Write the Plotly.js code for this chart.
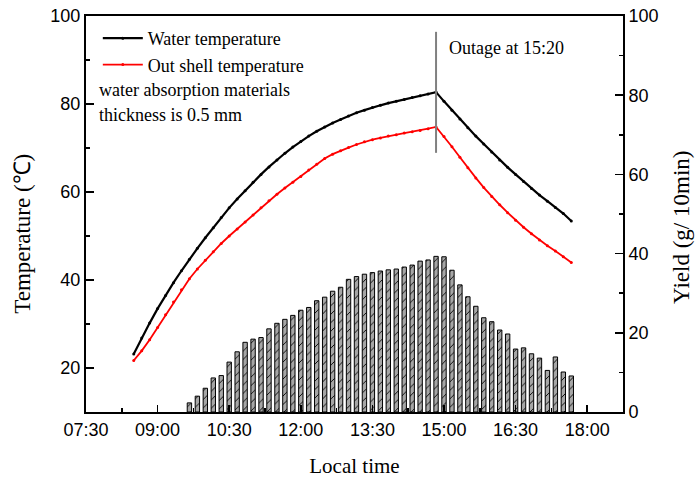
<!DOCTYPE html>
<html>
<head>
<meta charset="utf-8">
<script src="https://cdn.plot.ly/plotly-3.0.1.min.js"></script>
<style>
  html, body { margin: 0; padding: 0; background: #fff; }
  #chart { width: 697px; height: 484px; }
</style>
</head>
<body>
<div id="chart"></div>
<script>
// Temperature readings every 10 minutes (°C)
const tempTimes = [
  '08:30','08:40','08:50','09:00','09:10','09:20','09:30','09:40','09:50',
  '10:00','10:10','10:20','10:30','10:40','10:50','11:00','11:10','11:20',
  '11:30','11:40','11:50','12:00','12:10','12:20','12:30','12:40','12:50',
  '13:00','13:10','13:20','13:30','13:40','13:50','14:00','14:10','14:20',
  '14:30','14:40','14:50','15:00','15:10','15:20','15:30','15:40','15:50',
  '16:00','16:10','16:20','16:30','16:40','16:50','17:00','17:10','17:20',
  '17:30','17:40'
];
const waterTemp = [
  23.2, 26.8, 30.2, 33.5, 36.5, 39.4, 42.1, 44.7, 47.2,
  49.6, 51.9, 54.2, 56.4, 58.4, 60.3, 62.2, 64.0, 65.7,
  67.3, 68.8, 70.2, 71.5, 72.7, 73.8, 74.8, 75.7, 76.5,
  77.3, 78.0, 78.6, 79.2, 79.7, 80.2, 80.6, 81.0, 81.5,
  81.9, 82.3, 82.7, 80.6, 78.6, 76.6, 74.6, 72.7, 70.9,
  69.1, 67.3, 65.6, 64.0, 62.4, 60.8, 59.3, 57.9, 56.5,
  55.1, 53.4
];
const shellTemp = [
  21.7, 23.9, 26.4, 29.2, 32.1, 35.0, 37.8, 40.3, 42.5,
  44.5, 46.4, 48.3, 50.0, 51.6, 53.2, 54.8, 56.4, 58.0,
  59.5, 60.9, 62.2, 63.5, 65.0, 66.3, 67.6, 68.6, 69.4,
  70.1, 70.8, 71.4, 71.9, 72.3, 72.7, 73.0, 73.4, 73.7,
  74.0, 74.4, 74.8, 72.6, 70.3, 67.9, 65.5, 63.2, 61.0,
  59.0, 57.1, 55.3, 53.6, 52.0, 50.5, 49.1, 47.8, 46.6,
  45.3, 44.0
];

// Distilled water yield per 10 minutes (g)
const yieldTimes = [
  '09:40','09:50','10:00','10:10','10:20','10:30','10:40','10:50','11:00',
  '11:10','11:20','11:30','11:40','11:50','12:00','12:10','12:20','12:30',
  '12:40','12:50','13:00','13:10','13:20','13:30','13:40','13:50','14:00',
  '14:10','14:20','14:30','14:40','14:50','15:00','15:10','15:20','15:30',
  '15:40','15:50','16:00','16:10','16:20','16:30','16:40','16:50','17:00',
  '17:10','17:20','17:30','17:40'
];
const yieldValues = [
  2.3, 4.0, 6.0, 8.6, 9.2, 12.6, 15.2, 17.6, 18.4,
  18.8, 21.0, 22.4, 23.4, 24.4, 25.7, 26.4, 28.1, 29.0,
  30.5, 31.5, 33.5, 34.2, 34.8, 35.2, 35.6, 35.9, 36.1,
  36.6, 37.1, 38.1, 38.4, 39.3, 39.2, 35.8, 32.1, 29.1,
  26.7, 23.8, 22.8, 20.7, 19.7, 15.9, 16.2, 14.7, 13.6,
  10.5, 13.9, 10.1, 9.1
];

// Power outage marker (time on axis, temperature span of the marker line)
const outageTime = '14:50';
const outageSpan = [68.9, 96.4];

const day = t => '2000-01-01 ' + t;
const serif = 'Liberation Serif, Times New Roman, serif';
const sans = 'Liberation Sans, Arial, sans-serif';

const traces = [
  {
    x: tempTimes.map(day), y: waterTemp, name: 'Water temperature',
    type: 'scatter', mode: 'lines+markers',
    line: { color: '#000000', width: 2.2 },
    marker: { color: '#000000', size: 3 },
    yaxis: 'y'
  },
  {
    x: tempTimes.map(day), y: shellTemp, name: 'Out shell temperature',
    type: 'scatter', mode: 'lines+markers',
    line: { color: '#ff0000', width: 1.8 },
    marker: { color: '#ff0000', size: 3 },
    yaxis: 'y'
  },
  {
    x: yieldTimes.map(day), y: yieldValues, name: 'Yield',
    type: 'bar', yaxis: 'y2', showlegend: false,
    width: 330000,
    marker: {
      color: '#a6a6a6',
      line: { color: '#000000', width: 1 },
      pattern: { shape: '/', fgcolor: '#000000', bgcolor: '#a6a6a6', size: 6, solidity: 0.15, fillmode: 'replace' }
    }
  }
];

const axisBase = {
  showline: true, linewidth: 2, linecolor: '#000',
  ticks: 'inside', tickwidth: 1.5, tickcolor: '#000',
  showgrid: false, zeroline: false,
  tickfont: { family: sans, size: 18, color: '#000' }
};

const layout = {
  width: 697, height: 484,
  margin: { l: 86, r: 74, t: 16, b: 72, pad: 0 },
  paper_bgcolor: '#fff', plot_bgcolor: '#fff',
  font: { family: sans, size: 18, color: '#000' },
  bargap: 0,
  showlegend: true,
  legend: {
    x: 0.022, y: 0.99, xanchor: 'left', yanchor: 'top',
    bgcolor: 'rgba(0,0,0,0)', borderwidth: 0,
    font: { family: serif, size: 18, color: '#000' },
    tracegroupgap: 0, itemwidth: 40
  },
  xaxis: Object.assign({}, axisBase, {
    type: 'date',
    range: [day('07:30'), day('18:45')],
    tick0: day('07:30'), dtick: 5400000, tickformat: '%H:%M',
    ticklen: 7, mirror: true,
    minor: { tick0: day('07:30'), dtick: 2700000, ticks: 'inside', ticklen: 4, tickwidth: 1.5, tickcolor: '#000', showgrid: false },
    title: { text: 'Local time', font: { family: serif, size: 21, color: '#000' }, standoff: 20 }
  }),
  yaxis: Object.assign({}, axisBase, {
    range: [10, 100], tick0: 0, dtick: 20, ticklen: 8,
    minor: { tick0: 0, dtick: 10, ticks: 'inside', ticklen: 4, tickwidth: 1.5, tickcolor: '#000', showgrid: false }
  }),
  yaxis2: Object.assign({}, axisBase, {
    overlaying: 'y', side: 'right',
    range: [0, 100], tick0: 0, dtick: 20, ticklen: 8,
    minor: { tick0: 0, dtick: 10, ticks: 'inside', ticklen: 4, tickwidth: 1.5, tickcolor: '#000', showgrid: false }
  }),
  shapes: [{
    type: 'line', xref: 'x', yref: 'y',
    x0: day(outageTime), x1: day(outageTime), y0: outageSpan[0], y1: outageSpan[1],
    line: { color: '#808080', width: 2 }
  }],
  annotations: [
    // vertical axis titles
    {
      xref: 'paper', yref: 'paper', x: -0.1173, y: 0.4502,
      xanchor: 'center', yanchor: 'middle', textangle: -90, showarrow: false,
      text: 'Temperature (℃)',
      font: { family: serif, size: 23, color: '#000' }
    },
    {
      xref: 'paper', yref: 'paper', x: 1.1099, y: 0.465,
      xanchor: 'center', yanchor: 'middle', textangle: -90, showarrow: false,
      text: 'Yield (g/ 10min)',
      font: { family: serif, size: 23, color: '#000' }
    },
    // in-plot notes
    {
      xref: 'paper', yref: 'paper', x: 0.02, y: 0.8134,
      xanchor: 'left', yanchor: 'middle', align: 'left', showarrow: false,
      text: 'water absorption materials',
      font: { family: serif, size: 18, color: '#000' }
    },
    {
      xref: 'paper', yref: 'paper', x: 0.02, y: 0.7503,
      xanchor: 'left', yanchor: 'middle', align: 'left', showarrow: false,
      text: 'thickness is 0.5 mm',
      font: { family: serif, size: 18, color: '#000' }
    },
    {
      xref: 'paper', yref: 'paper', x: 0.672, y: 0.92,
      xanchor: 'left', yanchor: 'middle', showarrow: false,
      text: 'Outage at 15:20',
      font: { family: serif, size: 18, color: '#000' }
    }
  ]
};

Plotly.newPlot('chart', traces, layout, { displayModeBar: false, staticPlot: true });
</script>
</body>
</html>
